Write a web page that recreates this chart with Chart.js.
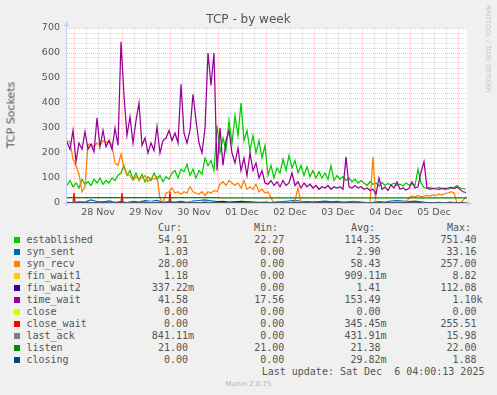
<!DOCTYPE html>
<html>
<head>
<meta charset="utf-8">
<script src="https://cdn.jsdelivr.net/npm/chart.js"></script>
<style>
  html, body { margin: 0; padding: 0; background: #F0F0F0; }
  #wrap { position: relative; width: 497px; height: 395px; overflow: hidden;
          font-family: "DejaVu Sans", sans-serif; color: #555; }
  #chart { position: absolute; left: 0; top: 0; }
  .txt { position: absolute; white-space: pre; }
  .mono { font-family: "DejaVu Sans Mono", monospace; font-size: 10px; line-height: 12px; }
  .box { position: absolute; width: 6px; height: 6px; }
</style>
</head>
<body>
<div id="wrap">
  <canvas id="chart" width="497" height="220"></canvas>
  <div class="txt" style="left:0; top:12px; width:497px; text-align:center; font-size:12px; line-height:14px;">TCP - by week</div>
  <div class="txt" style="left:11px; top:115px; font-size:11px; transform:translate(-50%,-50%) rotate(-90deg);">TCP Sockets</div>
  <div class="txt" style="left:484px; top:5px; font-size:6.8px; color:#C4C4C4; writing-mode:vertical-rl;">RRDTOOL / TOBI OETIKER</div>
  <div class="txt" style="left:0; top:380px; width:497px; text-align:center; font-size:7px; line-height:8px; color:#B4B4B4;">Munin 2.0.75</div>
  <div id="legend"></div>
</div>
<script>
// hours since 28 Nov 00:00
const hourMin = -3.5;
const hourMax = 196.5;
const mainStep = 1.5;   // main series, one value per 1.5 h
const smallStep = 3;    // small series, one value per 3 h

const dayLabels = ["28 Nov", "29 Nov", "30 Nov", "01 Dec", "02 Dec", "03 Dec", "04 Dec", "05 Dec"];

const established = [
  70, 90, 65, 80, 60, 95, 75, 85, 70, 95,
  80, 100, 75, 90, 80, 100, 90, 110, 120, 150,
  110, 130, 95, 120, 90, 115, 85, 105, 90, 120,
  95, 110, 85, 105, 95, 120, 130, 100, 135, 125,
  155, 110, 135, 100, 130, 115, 180, 150, 170, 130,
  310, 200, 260, 210, 330, 240, 350, 270, 400, 250,
  290, 210, 270, 200, 250, 180, 230, 110, 150, 100,
  140, 120, 175, 130, 190, 140, 170, 120, 150, 110,
  145, 105, 130, 100, 125, 100, 120, 95, 150, 90,
  110, 95, 105, 90, 100, 85, 95, 80, 90, 80,
  70, 85, 75, 80, 68, 82, 70, 78, 72, 80,
  70, 75, 68, 80, 72, 78, 70, 135, 80, 62,
  60, 62, 58, 60, 62, 58, 60, 56, 58, 62,
  70, 60, 58, 55
];
const synRecv = [
  250, 245, 175, 150, 115, 45, 65, 235, 235, 225,
  240, 230, 250, 240, 250, 230, 160, 150, 195, 140,
  115, 110, 90, 105, 95, 100, 110, 85, 100, 95,
  105, 20, 0, 40, 45, 60, 40, 45, 35, 45,
  40, 65, 45, 40, 35, 45, 30, 45, 40, 50,
  45, 75, 85, 70, 90, 80, 70, 80, 60, 90,
  55, 65, 55, 75, 45, 55, 40, 45, 20, 0,
  0, 0, 0, 0, 0, 0, 10, 60, 0, 0,
  0, 0, 0, 0, 0, 0, 0, 0, 0, 0,
  0, 0, 0, 0, 0, 0, 0, 0, 0, 0,
  0, 0, 185, 0, 0, 0, 0, 0, 0, 0,
  0, 0, 0, 0, 20, 28, 25, 30, 25, 28,
  30, 28, 32, 30, 35, 32, 38, 40, 45, 40,
  0, 0, 10, 25
];
const timeWait = [
  245, 215, 290, 165, 240, 215, 285, 215, 235, 205,
  340, 225, 290, 225, 250, 215, 300, 230, 645, 430,
  270, 345, 240, 330, 400, 230, 260, 200, 240, 210,
  305, 200, 250, 260, 290, 250, 280, 240, 475, 280,
  240, 290, 435, 330, 240, 200, 300, 600, 470, 600,
  130, 300, 150, 250, 290, 200, 160, 220, 130, 180,
  110, 200, 130, 160, 100, 130, 80, 75, 90, 70,
  85, 65, 90, 70, 80, 120, 70, 85, 60, 80,
  65, 75, 60, 70, 55, 65, 60, 70, 55, 65,
  60, 65, 55, 185, 65, 60, 70, 60, 65, 55,
  60, 50, 55, 35, 100, 55, 64, 50, 72, 60,
  84, 55, 60, 52, 58, 84, 60, 65, 124, 165,
  60, 55, 58, 56, 55, 58, 55, 60, 62, 58,
  64, 55, 45, 42
];
const synSent = [
  3, 2, 5, 4, 12, 6, 4, 8, 3, 5,
  2, 6, 4, 9, 7, 10, 3, 5, 4, 6,
  3, 8, 10, 12, 9, 6, 3, 2, 3, 2,
  3, 2, 2, 3, 2, 5, 6, 8, 10, 7,
  6, 5, 6, 7, 5, 6, 4, 5, 6, 4,
  2, 3, 5, 4, 8, 9, 8, 6, 7, 5,
  2, 1, 1, 1, 1, 1, 1
];
const finWait1 = [
  0, 1, 3, 0, 1, 0, 2, 0, 4, 1,
  0, 2, 0, 1, 6, 0, 1, 0, 2, 0,
  1, 5, 0, 1, 0, 2, 0, 1, 0, 3,
  0, 1, 0, 0, 2, 0, 1, 0, 0, 1,
  0, 2, 0, 1, 0, 0, 1, 0, 3, 0,
  1, 0, 0, 2, 0, 1, 0, 0, 1, 0,
  2, 0, 4, 1, 6, 0, 1
];
const finWait2 = [
  1, 0, 2, 1, 0, 1, 3, 0, 1, 2,
  0, 1, 0, 2, 1, 0, 1, 2, 0, 1,
  0, 2, 1, 3, 2, 5, 6, 4, 5, 6,
  5, 4, 3, 2, 1, 1, 0, 1, 2, 0,
  1, 0, 1, 0, 2, 1, 0, 1, 0, 1,
  0, 0, 1, 0, 1, 0, 0, 1, 0, 0,
  1, 0, 0, 0, 0, 0, 1
];
const lastAck = [
  0, 1, 0, 0, 1, 0, 0, 2, 0, 0,
  1, 0, 0, 0, 1, 0, 0, 1, 0, 0,
  0, 1, 0, 0, 2, 0, 0, 1, 0, 0,
  0, 0, 1, 0, 0, 0, 1, 0, 0, 0,
  1, 0, 0, 0, 0, 1, 0, 0, 0, 0,
  1, 0, 0, 0, 1, 0, 0, 0, 0, 1,
  0, 0, 1, 0, 0, 1, 1
];
const closeWaitHours = [-3.5, -0.5, 0, 0.5, 23.5, 24, 24.5, 47.5, 48, 48.5, 196.5];
const closeWaitVals = [0, 0, 40, 0, 0, 40, 0, 0, 45, 0, 0];
const listenHours = [-3.5, 72, 72.5, 196.5];
const listenVals = [22, 22, 21, 21];
const flatHours = [-3.5, 196.5];
const closeVals = [0, 0];
const closingVals = [0, 0];

const legendNames = ["established", "syn_sent", "syn_recv", "fin_wait1", "fin_wait2", "time_wait",
  "close", "close_wait", "last_ack", "listen", "closing"];
const legendColors = ["#00CC00", "#0066B3", "#FF8000", "#FFCC00", "#330099", "#990099",
  "#CCFF00", "#FF0000", "#808080", "#008F00", "#00487D"];
const curText = ["54.91 ", "1.03 ", "28.00 ", "1.18 ", "337.22m", "41.58 ", "0.00 ", "0.00 ", "841.11m", "21.00 ", "0.00 "];
const minText = ["22.27 ", "0.00 ", "0.00 ", "0.00 ", "0.00 ", "17.56 ", "0.00 ", "0.00 ", "0.00 ", "21.00 ", "0.00 "];
const avgText = ["114.35 ", "2.90 ", "58.43 ", "909.11m", "1.41 ", "153.49 ", "0.00 ", "345.45m", "431.91m", "21.38 ", "29.82m"];
const maxText = ["751.40 ", "33.16 ", "257.00 ", "8.82 ", "112.08 ", "1.10k", "0.00 ", "255.51 ", "15.98 ", "22.00 ", "1.88 "];

const fontColor = "#555555";
const axisColor = "#C9D0F6";
const minorGrid = "rgba(140,140,140,0.35)";
const majorGrid = "rgba(240,90,90,0.38)";

function stepped(vals, step) {
  return vals.map((v, i) => ({ x: hourMin + i * step, y: v }));
}
function paired(hours, vals) {
  return hours.map((h, i) => ({ x: h, y: vals[i] }));
}

const seriesData = [
  stepped(established, mainStep),
  stepped(synSent, smallStep),
  stepped(synRecv, mainStep),
  stepped(finWait1, smallStep),
  stepped(finWait2, smallStep),
  stepped(timeWait, mainStep),
  paired(flatHours, closeVals),
  paired(closeWaitHours, closeWaitVals),
  stepped(lastAck, smallStep),
  paired(listenHours, listenVals),
  paired(flatHours, closingVals),
];

// legend table, rrdtool style
const legend = document.getElementById("legend");
function addText(text, left, centerY, cls, extra) {
  const d = document.createElement("div");
  d.className = "txt " + cls;
  d.textContent = text;
  d.style.left = left + "px";
  d.style.top = (centerY - 6) + "px";
  if (extra) Object.assign(d.style, extra);
  legend.appendChild(d);
  return d;
}
function addRight(text, right, centerY) {
  return addText(text, right - 80, centerY, "mono", { width: "80px", textAlign: "right" });
}
const row0 = 239.7;
addText("Cur:", 158, row0 - 12, "mono");
addText("Min:", 254, row0 - 12, "mono");
addText("Avg:", 351, row0 - 12, "mono");
addText("Max:", 447, row0 - 12, "mono");
legendNames.forEach((name, i) => {
  const y = row0 + i * 12;
  const b = document.createElement("div");
  b.className = "box";
  b.style.left = "14px";
  b.style.top = (y - 3) + "px";
  b.style.background = legendColors[i];
  legend.appendChild(b);
  addText(name, 26.5, y, "mono");
  addRight(curText[i], 194, y);
  addRight(minText[i], 290.3, y);
  addRight(avgText[i], 386.6, y);
  addRight(maxText[i], 482.6, y);
});
addText("Last update: Sat Dec  6 04:00:13 2025", 261.7, row0 + 11 * 12, "mono");

const canvasPlugin = {
  id: "rrdCanvas",
  beforeDraw(chart) {
    const { ctx, chartArea: a } = chart;
    ctx.save();
    ctx.fillStyle = "#FFFFFF";
    ctx.fillRect(a.left, a.top, a.right - a.left, a.bottom - a.top);
    ctx.restore();
  },
  afterDraw(chart) {
    const { ctx, chartArea: a } = chart;
    ctx.save();
    ctx.strokeStyle = axisColor;
    ctx.fillStyle = axisColor;
    ctx.lineWidth = 1;
    ctx.beginPath();
    ctx.moveTo(a.left - 0.5, a.bottom + 3);
    ctx.lineTo(a.left - 0.5, a.top - 3);
    ctx.moveTo(a.left - 3, a.bottom + 0.5);
    ctx.lineTo(a.right + 1, a.bottom + 0.5);
    ctx.stroke();
    ctx.beginPath();
    ctx.moveTo(a.left - 0.5, a.top - 7);
    ctx.lineTo(a.left - 3.5, a.top - 1.5);
    ctx.lineTo(a.left + 2.5, a.top - 1.5);
    ctx.closePath();
    ctx.fill();
    ctx.beginPath();
    ctx.moveTo(a.right + 5, a.bottom + 0.5);
    ctx.lineTo(a.right - 0.5, a.bottom - 2.5);
    ctx.lineTo(a.right - 0.5, a.bottom + 3.5);
    ctx.closePath();
    ctx.fill();
    ctx.restore();
  }
};

const gridHours = [];
for (let h = 0; h <= hourMax; h += 6) gridHours.push(h);
const gridValues = [];
for (let v = 0; v <= 700; v += 20) gridValues.push(v);

new Chart(document.getElementById("chart"), {
  type: "line",
  data: {
    datasets: legendNames.map((name, i) => ({
      label: name,
      data: seriesData[i],
      borderColor: legendColors[i],
      backgroundColor: legendColors[i],
      borderWidth: 1.25,
      pointRadius: 0,
      tension: 0,
      fill: false,
      order: legendNames.length - i,
    })),
  },
  options: {
    responsive: false,
    animation: false,
    layout: { padding: { top: 28, right: 30, left: 0, bottom: 0 } },
    plugins: {
      legend: { display: false },
      tooltip: { enabled: false },
      title: { display: false },
    },
    scales: {
      x: {
        type: "linear",
        min: hourMin,
        max: hourMax,
        afterBuildTicks: (s) => { s.ticks = gridHours.map((v) => ({ value: v })); },
        afterFit: (s) => { s.height = 17; },
        ticks: {
          autoSkip: false,
          maxRotation: 0,
          padding: 4,
          color: fontColor,
          font: { family: "DejaVu Sans", size: 9.5 },
          callback: (v) => (v % 24 === 12 ? dayLabels[(v - 12) / 24] : ""),
        },
        grid: {
          drawTicks: false,
          lineWidth: 1,
          color: (c) => (c.tick && c.tick.value % 24 === 0 ? majorGrid : minorGrid),
        },
        border: { display: false, dash: [1, 1] },
      },
      y: {
        min: 0,
        max: 700,
        afterBuildTicks: (s) => { s.ticks = gridValues.map((v) => ({ value: v })); },
        afterFit: (s) => { s.width = 67; },
        ticks: {
          autoSkip: false,
          padding: 7,
          color: fontColor,
          font: { family: "DejaVu Sans", size: 9.5 },
          callback: (v) => (v % 100 === 0 ? String(v) : ""),
        },
        grid: {
          drawTicks: false,
          lineWidth: 1,
          color: (c) => (c.tick && c.tick.value % 100 === 0 ? majorGrid : minorGrid),
        },
        border: { display: false, dash: [1, 1] },
      },
    },
  },
  plugins: [canvasPlugin],
});
</script>
</body>
</html>
